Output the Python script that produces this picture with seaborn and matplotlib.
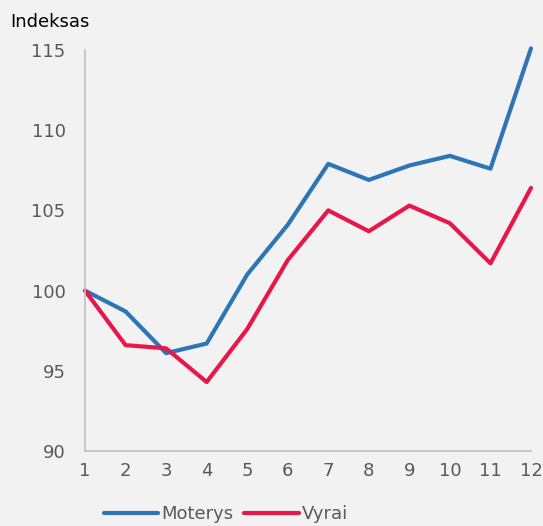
import matplotlib
matplotlib.use("Agg")
import matplotlib.pyplot as plt
import seaborn as sns
import pandas as pd
from matplotlib.lines import Line2D

months = [1, 2, 3, 4, 5, 6, 7, 8, 9, 10, 11, 12]
moterys = [100.0, 98.7, 96.1, 96.7, 101.0, 104.1, 107.9, 106.9, 107.8, 108.4, 107.6, 115.1]
vyrai = [100.0, 96.6, 96.4, 94.3, 97.6, 101.9, 105.0, 103.7, 105.3, 104.2, 101.7, 106.4]

df = pd.DataFrame({"x": months * 2,
                   "y": moterys + vyrai,
                   "s": ["Moterys"] * 12 + ["Vyrai"] * 12})

sns.set_theme(style="white")
plt.rcParams["font.family"] = ["DejaVu Sans"]
bg = "#F2F2F2"
fs = 13
fig = plt.figure(figsize=(5.43, 5.26), dpi=100, facecolor=bg)
ax = fig.add_axes([85 / 543, 75 / 526, 446 / 543, 401 / 526], facecolor=bg)

sns.lineplot(data=df, x="x", y="y", hue="s", palette=["#2E75B6", "#E8174A"],
             linewidth=3, ax=ax, legend=False, clip_on=False)

ax.set_xlim(1, 12)
ax.set_ylim(90, 115)
ax.set_xticks(months)
ax.set_yticks([90, 95, 100, 105, 110, 115])
ax.tick_params(axis="both", length=0, labelsize=fs, labelcolor="#595959")
ax.tick_params(axis="x", pad=8)
ax.tick_params(axis="y", pad=14)
ax.set_xlabel("")
ax.set_ylabel("")
for s in ["top", "right"]:
    ax.spines[s].set_visible(False)
for s in ["left", "bottom"]:
    ax.spines[s].set_color("#BFBFBF")
    ax.spines[s].set_linewidth(1.2)

fig.text(10 / 543, 1 - 22 / 526, "Indeksas", fontsize=fs, color="#000000", va="center", ha="left")

handles = [Line2D([], [], color="#2E75B6", lw=3), Line2D([], [], color="#E8174A", lw=3)]
fig.legend(handles, ["Moterys", "Vyrai"], loc="center", bbox_to_anchor=(226 / 543, 1 - 514 / 526),
           ncol=2, frameon=False, fontsize=fs, labelcolor="#595959",
           handlelength=3.0, columnspacing=0.6, handletextpad=0.2)

fig.savefig("out.png", dpi=100, facecolor=bg)
